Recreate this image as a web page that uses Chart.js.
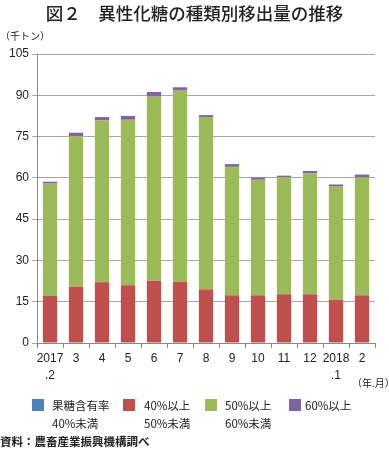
<!DOCTYPE html>
<html>
<head>
<meta charset="utf-8">
<script src="https://cdn.jsdelivr.net/npm/chart.js@4"></script>
<style>
  body { margin: 0; background: #fff; font-family: "Noto Sans CJK JP", "Liberation Sans", sans-serif; color: #222; }
  #wrap { position: relative; width: 389px; height: 449px; overflow: hidden; }
  #myChart { position: absolute; left: 0; top: 0; }
  .txt { position: absolute; white-space: nowrap; line-height: 1; }
  .box { position: absolute; width: 12px; height: 12px; }
</style>
</head>
<body>
<div id="wrap">
  <canvas id="myChart" width="389" height="449"></canvas>
  <div class="txt" style="left:0;width:389px;text-align:center;top:4px;font-size:17.5px;font-weight:500;">図２　異性化糖の種類別移出量の推移</div>
  <div class="txt" style="left:0;top:31px;font-size:10px;">（千トン）</div>
  <div class="txt" style="left:352px;top:378px;font-size:10px;">（年.月）</div>

  <div class="box" style="left:32px;top:399px;background:#4f81bd;"></div>
  <div class="txt" style="left:52px;top:396px;font-size:11.5px;line-height:18px;">果糖含有率<br>40%未満</div>
  <div class="box" style="left:123px;top:399px;background:#c0504d;"></div>
  <div class="txt" style="left:144px;top:396px;font-size:11.5px;line-height:18px;">40%以上<br>50%未満</div>
  <div class="box" style="left:205px;top:399px;background:#9bbb59;"></div>
  <div class="txt" style="left:225px;top:396px;font-size:11.5px;line-height:18px;">50%以上<br>60%未満</div>
  <div class="box" style="left:289px;top:399px;background:#8064a2;"></div>
  <div class="txt" style="left:305px;top:396px;font-size:11.5px;line-height:18px;">60%以上</div>

  <div class="txt" style="left:0;top:436px;font-size:11.5px;font-weight:bold;">資料：農畜産業振興機構調べ</div>
</div>
<script>
var labels = [['2017', '.2'], '3', '4', '5', '6', '7', '8', '9', '10', '11', '12', ['2018', '.1'], '2'];
var under40 = [0, 0, 0, 0, 0, 0, 0, 0, 0, 0, 0, 0, 0];
var from40to50 = [17.1, 20.5, 22.1, 21.0, 22.6, 22.3, 19.5, 17.3, 17.3, 17.7, 17.7, 15.7, 17.3];
var from50to60 = [40.8, 54.7, 58.8, 60.1, 66.9, 69.4, 62.4, 46.7, 42.0, 42.5, 43.9, 41.1, 42.8];
var over60 = [0.7, 1.2, 1.2, 1.4, 1.7, 1.2, 0.9, 1.0, 0.8, 0.6, 0.9, 0.8, 1.1];
var yMin = 0, yMax = 105, yStep = 15;

var ctx = document.getElementById('myChart').getContext('2d');
var myChart = new Chart(ctx, {
  type: 'bar',
  data: {
    labels: labels,
    datasets: [
      { label: '果糖含有率40%未満', data: under40, backgroundColor: '#4f81bd' },
      { label: '40%以上50%未満', data: from40to50, backgroundColor: '#c0504d' },
      { label: '50%以上60%未満', data: from50to60, backgroundColor: '#9bbb59' },
      { label: '60%以上', data: over60, backgroundColor: '#8064a2' }
    ]
  },
  options: {
    responsive: false,
    animation: false,
    devicePixelRatio: 1,
    categoryPercentage: 1,
    barPercentage: 0.55,
    layout: { padding: { top: 54, right: 14, bottom: 66, left: 0 } },
    plugins: {
      legend: { display: false },
      tooltip: { enabled: false }
    },
    scales: {
      x: {
        stacked: true,
        grid: { offset: true, drawOnChartArea: false, color: '#888', tickLength: 5 },
        border: { color: '#888' },
        ticks: { color: '#222', font: { family: 'Liberation Sans', size: 12, lineHeight: 1.4 }, padding: 2, maxRotation: 0, autoSkip: false },
        afterFit: function (s) { s.height = 40; }
      },
      y: {
        stacked: true,
        min: yMin,
        max: yMax,
        ticks: { stepSize: yStep, color: '#222', font: { family: 'Liberation Sans', size: 12 }, padding: 3 },
        grid: { color: '#a6a6a6', tickLength: 5 },
        border: { color: '#888' },
        afterFit: function (s) { s.width = 37; }
      }
    }
  }
});
</script>
</body>
</html>
